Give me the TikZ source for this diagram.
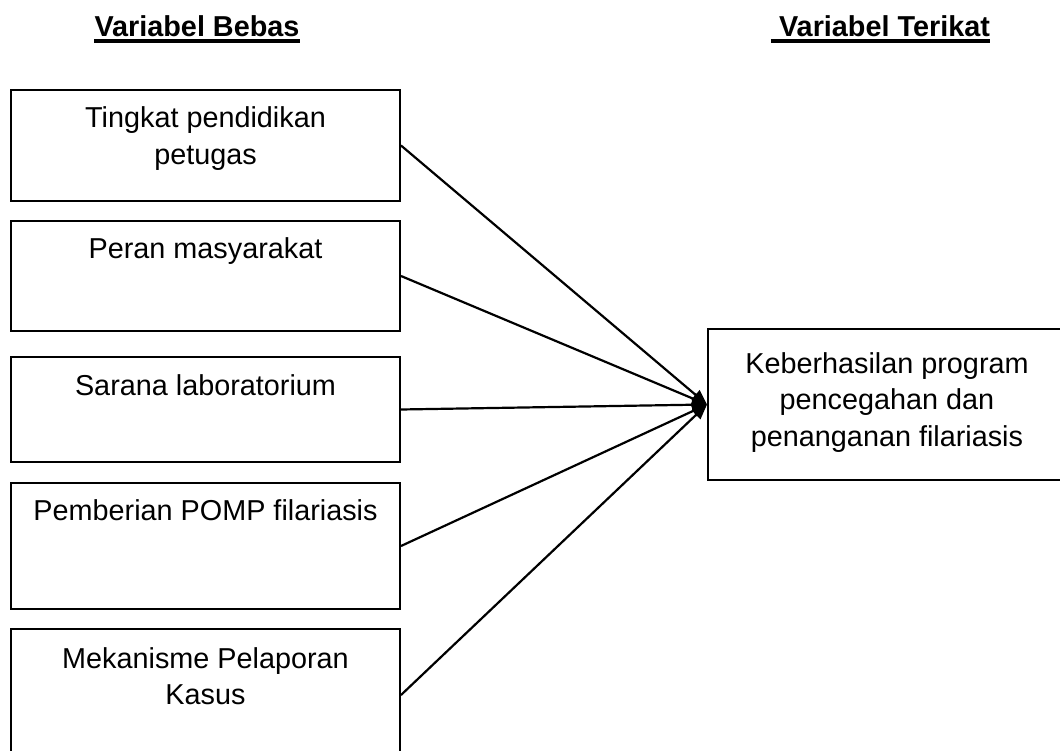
\documentclass[tikz,border=0pt]{standalone}
\usepackage{fontspec}
\setmainfont{Liberation Sans}
\usetikzlibrary{arrows.meta}
\tikzset{
  box/.style={draw=black, line width=2pt, inner sep=0pt, fill=none},
  lbl/.style={align=center, inner sep=0pt, font=\fontsize{28.8}{36.5}\selectfont},
  head/.style={inner sep=0pt, font=\fontsize{28.8}{36.5}\selectfont\bfseries},
  uline/.style={line width=4pt},
  conn/.style={line width=2.2pt, -{Triangle[length=15pt,width=12pt]}}
}
\begin{document}
\begin{tikzpicture}[x=1pt,y=-1pt]
\useasboundingbox (0,0) rectangle (1060,751);
\clip (0,0) rectangle (1060,751);
\fill[white] (0,0) rectangle (1060,751);
% headings
\node[head, anchor=base] (h1) at (197,37) {Variabel Bebas};
\node[head, anchor=base] (h2) at (880.5,37) {\ Variabel Terikat};
\draw[uline] ([yshift=-4.5pt]h1.base west) -- ([yshift=-4.5pt]h1.base east);
\draw[uline] ([yshift=-4.5pt]h2.base west) -- ([yshift=-4.5pt]h2.base east);
% boxes
\node[box, minimum width=389pt, minimum height=111pt] (b1) at (205.5,145.5) {};
\node[box, minimum width=389pt, minimum height=110pt] (b2) at (205.5,276) {};
\node[box, minimum width=389pt, minimum height=105pt] (b3) at (205.5,409.5) {};
\node[box, minimum width=389pt, minimum height=126pt] (b4) at (205.5,546) {};
\node[box, minimum width=389pt, minimum height=132pt] (b5) at (205.5,695) {};
\node[box, minimum width=358pt, minimum height=151pt] (kb) at (887,404.5) {};
% texts (base anchor = baseline of the last line)
\node[lbl, anchor=base] (t1) at (205.5,164.5) {Tingkat pendidikan\\petugas};
\node[lbl, anchor=base] (t2) at (205.5,259) {Peran masyarakat};
\node[lbl, anchor=base] (t3) at (205.5,395) {Sarana laboratorium};
\node[lbl, anchor=base] (t4) at (205.5,520) {Pemberian POMP filariasis};
\node[lbl, anchor=base] (t5) at (205.5,704.5) {Mekanisme Pelaporan\\Kasus};
\node[lbl, anchor=base] (tk) at (887,446) {Keberhasilan program\\pencegahan dan\\penanganan filariasis};
% connectors
\draw[conn] (b1.east) -- (kb.west);
\draw[conn] (b2.east) -- (kb.west);
\draw[conn] (b3.east) -- (kb.west);
\draw[conn] (b4.east) -- (kb.west);
\draw[conn] (b5.east) -- (kb.west);
\end{tikzpicture}
\end{document}
